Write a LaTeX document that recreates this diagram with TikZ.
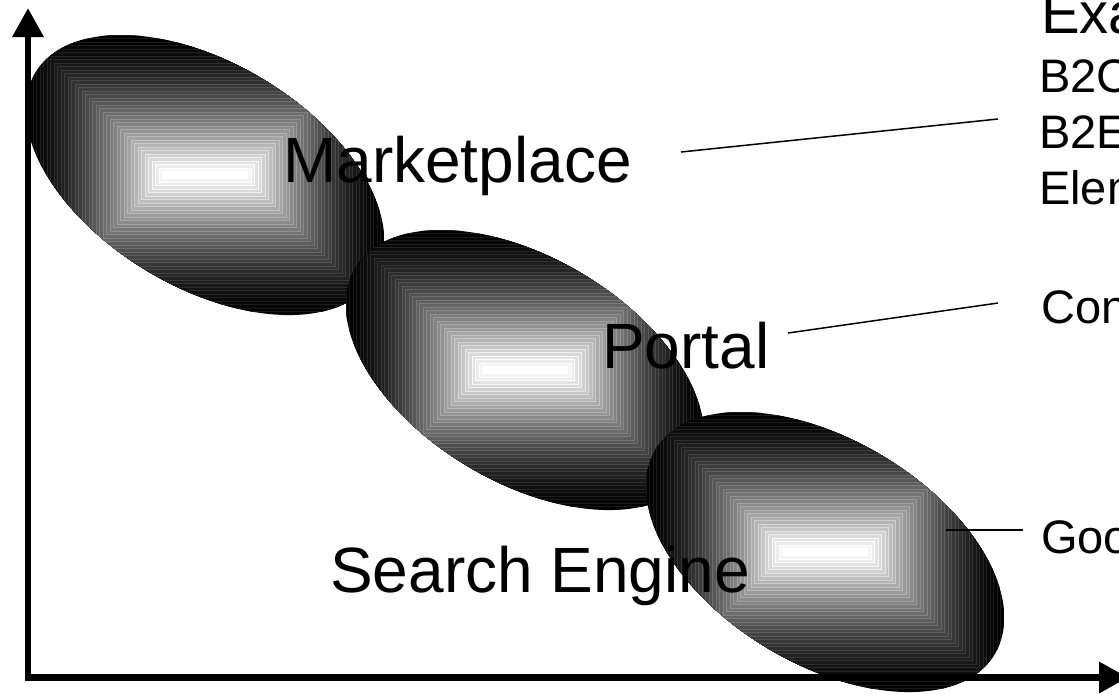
\documentclass[tikz,border=0pt]{standalone}
\usepackage{fontspec}
\setmainfont{Liberation Sans}
\usetikzlibrary{arrows.meta}
\newcommand{\shadedblob}[2]{%
  \begin{scope}
    \clip[shift={(#1,#2)},rotate=-31] (0,0) ellipse [x radius=198,y radius=112];
    \foreach \i in {0,...,39}{%
      \pgfmathsetmacro{\dd}{\i*3.5}%
      \pgfmathsetmacro{\ww}{100*(\i/39)^1.5}%
      \pgfmathsetmacro{\ll}{min(100,\ww+9)}%
      \filldraw[fill=white!\ww!black,draw=white!\ll!black,line width=0.6pt] (#1-179+\dd,#2-140+\dd) rectangle (#1+179-\dd,#2+140-\dd);
    }
  \end{scope}}
\begin{document}
\begin{tikzpicture}[x=1pt,y=-1pt,
  axisline/.style={line width=6.5pt,-{Triangle[length=29pt,width=30pt]}},
  leader/.style={line width=1.5pt},
  bigtext/.style={font=\fontsize{64}{70}\selectfont,inner sep=0pt,anchor=base west},
  headtext/.style={font=\fontsize{58}{64}\selectfont,inner sep=0pt,anchor=base west},
  smalltext/.style={font=\fontsize{47}{56}\selectfont,inner sep=0pt,anchor=base west}]
\clip (0,0) rectangle (1119,694);
\fill[white] (0,0) rectangle (1119,694);
% shaded ellipses
\shadedblob{205}{175}
\shadedblob{525}{370}
\shadedblob{825}{552}
% axes
\coordinate (origin) at (28,677.5);
\coordinate (ytip) at (28,8);
\coordinate (xstart) at (25,677.5);
\coordinate (xtip) at (1128,677.5);
\draw[axisline] (origin) -- (ytip);
\draw[axisline] (xstart) -- (xtip);
% labels
\node[bigtext] (mkt) at (283,182) {Marketplace};
\node[bigtext] (ptl) at (602,368) {Portal};
\node[bigtext] (se) at (330,592) {Search Engine};
% right column
\node[headtext] (exa) at (1041,33) {Exa};
\node[smalltext] (b2c) at (1039,92) {B2C};
\node[smalltext] (b2e) at (1039,148) {B2E};
\node[smalltext] (elem) at (1039,204) {Elem};
\node[smalltext] (con) at (1041,323) {Con};
\node[smalltext] (goo) at (1041,553) {Goo};
% leaders
\coordinate (l1a) at (681,152);
\coordinate (l1b) at (998,119);
\coordinate (l2a) at (788,333);
\coordinate (l2b) at (998,303);
\coordinate (l3a) at (946,530);
\coordinate (l3b) at (1023,530);
\draw[leader] (l1a) -- (l1b);
\draw[leader] (l2a) -- (l2b);
\draw[leader] (l3a) -- (l3b);
\end{tikzpicture}
\end{document}
